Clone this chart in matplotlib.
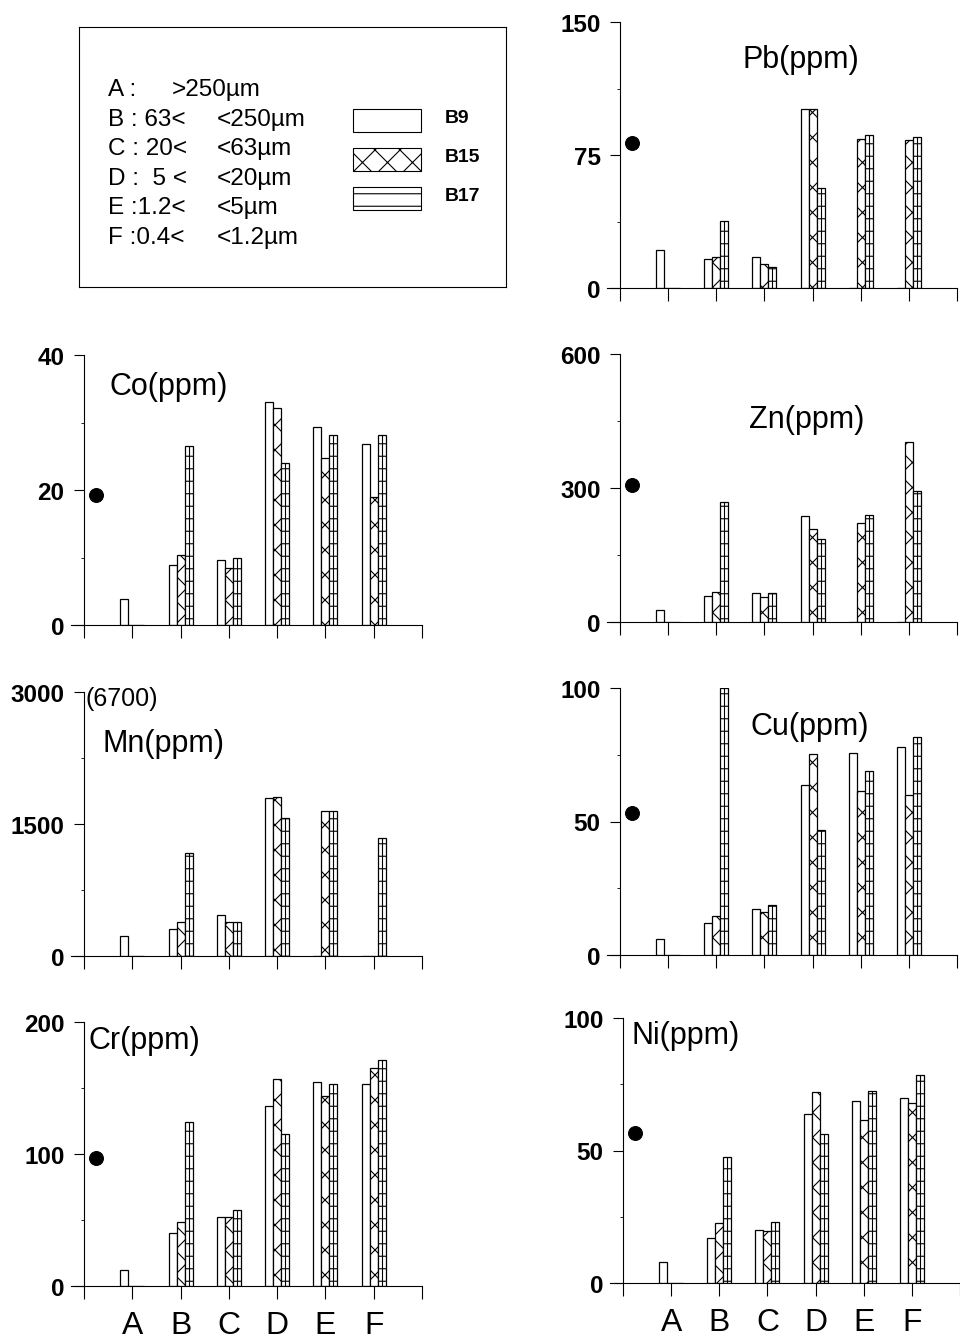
import numpy as np
import matplotlib
matplotlib.use("Agg")
import matplotlib.pyplot as plt
from matplotlib.patches import Rectangle

plt.rcParams['font.family'] = ['Liberation Sans', 'DejaVu Sans']

# frações granulométricas e amostras
fracoes = ['A', 'B', 'C', 'D', 'E', 'F']
faixas_esq = ['A :', 'B : 63<', 'C : 20<', 'D :  5 <', 'E :1.2<', 'F :0.4<']
faixas_dir = ['>250\u00b5m', '<250\u00b5m', '<63\u00b5m', '<20\u00b5m', '<5\u00b5m', '<1.2\u00b5m']
amostras = ['B9', 'B15', 'B17']

# concentrações (ppm) por fração, para cada amostra
pb_b9 = [21.7, 16.6, 17.4, 101, 0, 0]
pb_b15 = [0, 17.6, 13.8, 101, 84.1, 83.7]
pb_b17 = [0, 37.9, 12.0, 56.3, 86.2, 85.4]

co_b9 = [3.85, 8.9, 9.7, 33.1, 29.4, 26.8]
co_b15 = [0, 10.3, 8.5, 32.2, 24.7, 18.9]
co_b17 = [0, 26.5, 10.0, 24.0, 28.2, 28.2]

zn_b9 = [27, 58, 65, 238, 0, 0]
zn_b15 = [0, 68, 55, 208, 222, 402]
zn_b17 = [0, 269, 66, 185, 240, 294]

mn_b9 = [227, 310, 466, 1795, 0, 0]
mn_b15 = [0, 386, 390, 1807, 1648, 0]
mn_b17 = [0, 1174, 390, 1568, 1648, 1341]

cu_b9 = [6.1, 11.8, 17.1, 63.6, 75.5, 77.8]
cu_b15 = [0, 14.5, 16.1, 75.1, 61.5, 60.1]
cu_b17 = [0, 100, 18.8, 46.7, 69.1, 81.5]

cr_b9 = [11.8, 39.8, 51.9, 136, 154.2, 153.4]
cr_b15 = [0, 48.4, 52.6, 156.7, 144.1, 165]
cr_b17 = [0, 124.4, 57.2, 115.1, 153.4, 171.3]

ni_b9 = [7.9, 17.1, 20.0, 63.6, 68.7, 69.9]
ni_b15 = [0, 22.8, 19.5, 72, 61.6, 68.1]
ni_b17 = [0, 47.5, 23.0, 56.1, 72.5, 78.6]

# valor de referência de cada elemento (ponto preto)
ref_pb, ref_co, ref_zn, ref_mn = 82, 19.3, 307, 6700
ref_cu, ref_cr, ref_ni = 53.2, 96.7, 56.5

# escala máxima do eixo y
ymax_pb, ymax_co, ymax_zn, ymax_mn = 150, 40, 600, 3000
ymax_cu, ymax_cr, ymax_ni = 100, 200, 100

# dpi 75 deixa a hachura com passo de ~12 px; k corrige os tamanhos em pontos
W, H, DPI = 960, 1339, 75
k = 100 / DPI
plt.rcParams['hatch.linewidth'] = 0.8 * k
fig = plt.figure(figsize=(W / DPI, H / DPI), dpi=DPI)

hachuras = [None, 'x', '-']
larg = 0.166


def painel(esq, base, topo, larg_px, titulo, tx, ty, series, ref, ymax, rotulos=False):
    ax = fig.add_axes([esq / W, 1 - base / H, larg_px / W, (base - topo) / H])
    x = np.arange(1, 7)
    for i, (vals, hat) in enumerate(zip(series, hachuras)):
        pos = x + (i - 1) * larg
        ax.bar(pos, vals, larg, color='white', edgecolor='black',
               linewidth=0.9 * k, hatch=hat, zorder=2)
        if i == 2:
            ax.vlines(pos, 0, vals, color='black', linewidth=0.8 * k, zorder=3)
    if ref <= ymax:
        ax.plot([0.25], [ref], 'o', color='black', markersize=10 * k, zorder=4)
    else:
        ax.text(0.02, ymax * 0.977, '(%d)' % ref, fontsize=18 * k, ha='left', va='center')
    ax.text(tx, ty, titulo, fontsize=22 * k, ha='center', va='center')

    ax.set_xlim(-0.27, 7)
    ax.set_ylim(0, ymax)
    ax.spines['top'].set_visible(False)
    ax.spines['right'].set_visible(False)
    ax.spines['left'].set_position(('data', 0))
    ax.spines['left'].set_linewidth(0.8 * k)
    ax.spines['bottom'].set_linewidth(0.8 * k)
    ax.spines['left'].set_bounds(0, ymax)

    ax.set_yticks([0, ymax / 2, ymax])
    ax.set_yticklabels(['0', '%g' % (ymax / 2), '%g' % ymax])
    ax.set_yticks([ymax / 4, ymax * 3 / 4], minor=True)
    ax.tick_params(axis='y', which='major', direction='out', length=7 * k,
                   width=0.8 * k, pad=7 * k, labelsize=17.5 * k)
    ax.tick_params(axis='y', which='minor', direction='out', length=2.5 * k, width=0.6 * k)
    for t in ax.get_yticklabels():
        t.set_fontweight('bold')

    ax.set_xticks(np.arange(0, 8))
    ax.tick_params(axis='x', direction='out', length=9 * k, width=0.8 * k, pad=8 * k)
    if rotulos:
        ax.set_xticklabels([''] + fracoes + [''], fontsize=23 * k)
    else:
        ax.set_xticklabels([''] * 8)
    return ax


# coluna esquerda
painel(71, 626, 356, 351, 'Co(ppm)', 1.76, 35.4, [co_b9, co_b15, co_b17], ref_co, ymax_co)
painel(71, 957, 693, 351, 'Mn(ppm)', 1.64, 2420, [mn_b9, mn_b15, mn_b17], ref_mn, ymax_mn)
painel(71, 1287, 1023, 351, 'Cr(ppm)', 1.24, 186, [cr_b9, cr_b15, cr_b17], ref_cr, ymax_cr, rotulos=True)

# coluna direita
painel(607, 289, 23, 350, 'Pb(ppm)', 3.76, 129, [pb_b9, pb_b15, pb_b17], ref_pb, ymax_pb)
painel(607, 623, 355, 350, 'Zn(ppm)', 3.87, 454, [zn_b9, zn_b15, zn_b17], ref_zn, ymax_zn)
painel(607, 956, 689, 350, 'Cu(ppm)', 3.95, 85.8, [cu_b9, cu_b15, cu_b17], ref_cu, ymax_cu)
painel(610, 1284, 1019, 350, 'Ni(ppm)', 1.31, 93.6, [ni_b9, ni_b15, ni_b17], ref_ni, ymax_ni, rotulos=True)

# quadro de legenda
leg = fig.add_axes([79 / W, 1 - 288 / H, 427 / W, 260 / H])
leg.set_xlim(0, 427)
leg.set_ylim(260, 0)
leg.set_xticks([])
leg.set_yticks([])
for s in leg.spines.values():
    s.set_linewidth(0.8 * k)

for i, (a, b) in enumerate(zip(faixas_esq, faixas_dir)):
    y = 62 + i * 29.6
    leg.text(29, y, a, fontsize=17.5 * k, ha='left', va='center')
    leg.text(93 if i == 0 else 138, y, b, fontsize=17.5 * k, ha='left', va='center')

for i, (nome, hat) in enumerate(zip(amostras, [None, 'x', '-'])):
    y0 = 82 + i * 39
    leg.add_patch(Rectangle((274, y0), 68, 23, facecolor='white',
                            edgecolor='black', linewidth=0.8 * k, hatch=hat))
    leg.text(366, y0 + 9, nome, fontsize=14 * k, fontweight='bold', ha='left', va='center')

fig.savefig('out.png', dpi=DPI)
